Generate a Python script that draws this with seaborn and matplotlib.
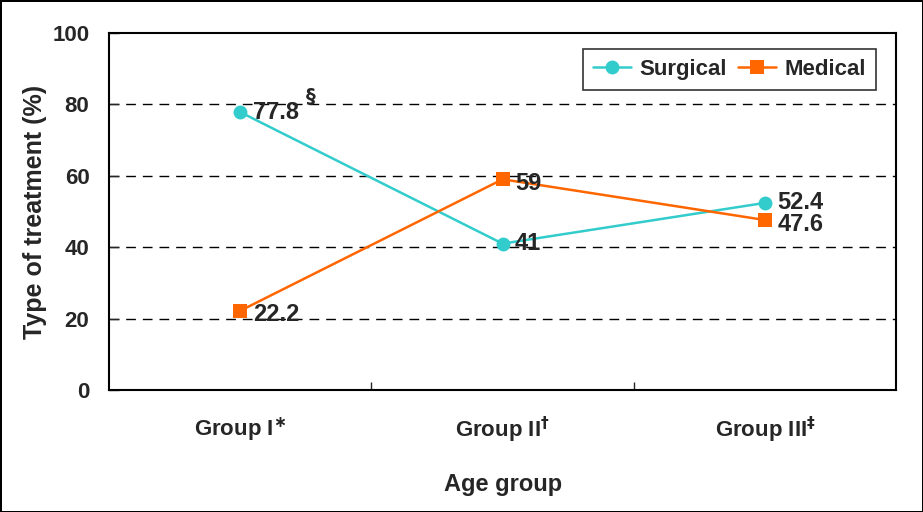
import pandas as pd
import numpy as np
import matplotlib
matplotlib.use("Agg")
import matplotlib.pyplot as plt
import seaborn as sns

# chart values
groups = ['Group I', 'Group II', 'Group III']
group_marks = [r'$^{\ast}$', r'$^{\dagger}$', r'$^{\ddagger}$']
surgical = [77.8, 41, 52.4]
medical = [22.2, 59, 47.6]
surgical_labels = ['77.8', '41', '52.4']
medical_labels = ['22.2', '59', '47.6']

df = pd.DataFrame({
    'pos': list(range(len(groups))) * 2,
    'value': surgical + medical,
    'Treatment': ['Surgical'] * 3 + ['Medical'] * 3,
})

sns.set_style("white")
plt.rcParams['font.family'] = ['Liberation Sans', 'DejaVu Sans']
plt.rcParams['font.weight'] = 'bold'

colors = {'Surgical': '#33CCCC', 'Medical': '#FF6600'}

fig = plt.figure(figsize=(9.23, 5.12), dpi=100, linewidth=2, edgecolor='black')
ax = fig.add_axes([0.118, 0.238, 0.853, 0.698])

sns.lineplot(data=df, x='pos', y='value', hue='Treatment', style='Treatment',
             palette=colors, markers={'Surgical': 'o', 'Medical': 's'},
             dashes=False, linewidth=1.8, markersize=10, markeredgewidth=0,
             ax=ax)

ax.set_xlim(-0.5, 2.5)
ax.set_ylim(0, 100)
ax.set_yticks([0, 20, 40, 60, 80, 100])
for y in [20, 40, 60, 80]:
    ax.axhline(y, color='black', linewidth=1, linestyle=(0, (7, 5)), zorder=0)

ax.set_xticks(range(len(groups)))
ax.set_xticklabels([g + m for g, m in zip(groups, group_marks)])
ax.set_xticks([0.5, 1.5], minor=True)
ax.tick_params(axis='x', which='major', length=0, pad=18, labelsize=16)
ax.tick_params(axis='x', which='minor', direction='in', length=6, width=1, bottom=True)
ax.tick_params(axis='y', direction='in', length=7, width=1, left=True, labelsize=16, pad=14)
for t in ax.get_xticklabels() + ax.get_yticklabels():
    t.set_fontweight('bold')

for s in ax.spines.values():
    s.set_color('black')
    s.set_linewidth(1.5)

ax.set_xlabel('Age group', fontsize=17, fontweight='bold', labelpad=20)
ax.set_ylabel('Type of treatment (%)', fontsize=18, fontweight='bold', labelpad=4)

# value labels
for i in range(len(groups)):
    ax.annotate(surgical_labels[i], (i, surgical[i]), xytext=(9, 0),
                textcoords='offset points', va='center', ha='left',
                fontsize=17, fontweight='bold')
    ax.annotate(medical_labels[i], (i, medical[i]), xytext=(9, -3),
                textcoords='offset points', va='center', ha='left',
                fontsize=17, fontweight='bold')
ax.annotate(r'$\S$', (0, surgical[0]), xytext=(47, 11), textcoords='offset points',
            va='center', ha='left', fontsize=14)

leg = ax.legend(loc='upper right', bbox_to_anchor=(0.989, 0.985), ncol=2,
                frameon=True, fancybox=False, handlelength=1.7,
                columnspacing=0.5, handletextpad=0.4, borderpad=0.45,
                prop={'weight': 'bold', 'size': 16})
leg.get_frame().set_edgecolor('black')
leg.get_frame().set_linewidth(1.2)
leg.set_title(None)

fig.savefig('out.png', dpi=100)
